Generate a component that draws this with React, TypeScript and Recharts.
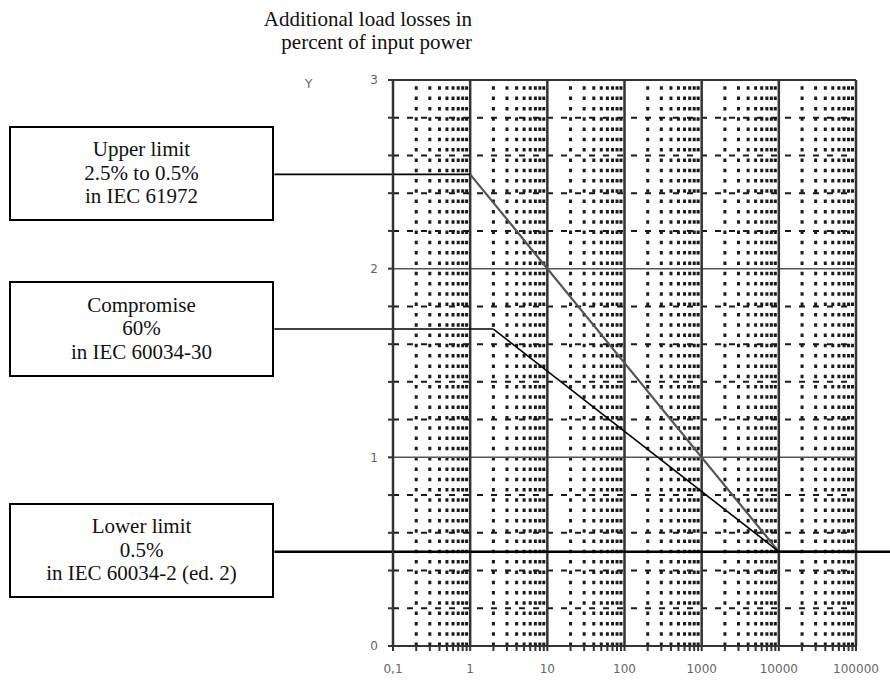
import React from 'react';
import { ComposedChart, Line, XAxis, YAxis, ReferenceLine } from 'recharts';

// ---- data ----
const DECADES = [0.1, 1, 10, 100, 1000, 10000, 100000];
const DECADE_LABELS = ['0,1', '1', '10', '100', '1000', '10000', '100000'];
const MINOR_MULTIPLIERS = [2, 3, 4, 5, 6, 7, 8, 9];
const Y_MAJOR = [0, 1, 2, 3];
const Y_DASHED = [0.2, 0.4, 0.6, 0.8, 1.2, 1.4, 1.6, 1.8, 2.2, 2.4, 2.6, 2.8];

const upperLimit = [
  { x: 1, y: 2.5 },
  { x: 10000, y: 0.5 },
  { x: 100000, y: 0.5 },
];
const compromise = [
  { x: 2, y: 1.68 },
  { x: 10000, y: 0.5 },
];
const LOWER_LIMIT = 0.5;

const TITLE_LINES = ['Additional load losses in', 'percent of input power'];
const BOX_UPPER = ['Upper limit', '2.5% to 0.5%', 'in IEC 61972'];
const BOX_COMP = ['Compromise', '60%', 'in IEC 60034-30'];
const BOX_LOWER = ['Lower limit', '0.5%', 'in IEC 60034-2 (ed. 2)'];

// x value (in axis units, extrapolated) where the annotation boxes end
const BOX_EDGE_X = 0.0029;
const FAR_RIGHT_X = 1000000;

const minorX: number[] = DECADES.slice(0, -1).flatMap((d) =>
  MINOR_MULTIPLIERS.map((m) => Number((d * m).toPrecision(6)))
);
const xTicks = [...DECADES, ...minorX].sort((a, b) => a - b);
const yTicks = [...Y_MAJOR, ...Y_DASHED].sort((a, b) => a - b);

const fmtX = (v: number) => {
  const i = DECADES.indexOf(v);
  return i >= 0 ? DECADE_LABELS[i] : '';
};
const fmtY = (v: number) => (Number.isInteger(v) ? String(v) : '');

const serif = '"Liberation Serif", "Times New Roman", serif';
const sans = '"DejaVu Sans", Verdana, sans-serif';

function Box({ top, height, lines }: { top: number; height: number; lines: string[] }) {
  return (
    <div
      style={{
        position: 'absolute',
        left: 9,
        top,
        width: 265,
        height,
        boxSizing: 'border-box',
        border: '2px solid #000',
        background: '#fff',
        display: 'flex',
        flexDirection: 'column',
        justifyContent: 'center',
        alignItems: 'center',
        fontFamily: serif,
        fontSize: 21,
        lineHeight: '23.5px',
        color: '#111',
      }}
    >
      {lines.map((l) => (
        <div key={l}>{l}</div>
      ))}
    </div>
  );
}

export default function App() {
  return (
    <div style={{ position: 'absolute', left: 0, top: 0, width: 890, height: 682, background: '#fff', overflow: 'hidden' }}>
      <ComposedChart width={890} height={682} margin={{ top: 80, right: 34, bottom: 6, left: 303 }}>
        <XAxis
          dataKey="x"
          type="number"
          scale="log"
          domain={[0.1, 100000]}
          allowDataOverflow
          ticks={xTicks}
          interval={0}
          tickFormatter={fmtX}
          tickSize={5}
          tickMargin={13}
          height={30}
          stroke="#333"
          strokeWidth={2}
          tick={{ fill: '#666', fontSize: 12, fontFamily: sans }}
        />
        <YAxis
          type="number"
          domain={[0, 3]}
          allowDataOverflow
          ticks={yTicks}
          interval={0}
          tickFormatter={fmtY}
          width={90}
          tickSize={5}
          tickMargin={10}
          stroke="#333"
          strokeWidth={2}
          tick={{ fill: '#666', fontSize: 12, fontFamily: sans }}
          label={(props: any) => {
            const vb = props.viewBox || { x: 303, y: 80 };
            return (
              <text x={vb.x + 2} y={vb.y + 8} fill="#666" fontSize={12} fontFamily={sans}>
                Y
              </text>
            );
          }}
        />

        {minorX.map((v) => (
          <ReferenceLine key={'mx' + v} x={v} stroke="#1a1a1a" strokeWidth={3} strokeDasharray="3.5 6.8" />
        ))}
        {Y_DASHED.map((v) => (
          <ReferenceLine key={'yd' + v} y={v} stroke="#1a1a1a" strokeWidth={2} strokeDasharray="6 8" />
        ))}
        {Y_MAJOR.slice(1, -1).map((v) => (
          <ReferenceLine key={'ym' + v} y={v} stroke="#555" strokeWidth={1.5} />
        ))}
        <ReferenceLine y={Y_MAJOR[Y_MAJOR.length - 1]} stroke="#333" strokeWidth={2} />
        {DECADES.map((v) => (
          <ReferenceLine key={'dx' + v} x={v} stroke="#333" strokeWidth={2.5} />
        ))}

        <Line data={upperLimit} dataKey="y" type="linear" stroke="#555" strokeWidth={2.2} dot={false} isAnimationActive={false} />
        <Line data={compromise} dataKey="y" type="linear" stroke="#000" strokeWidth={1.6} dot={false} isAnimationActive={false} />

        <ReferenceLine
          ifOverflow="visible"
          segment={[{ x: BOX_EDGE_X, y: upperLimit[0].y }, { x: upperLimit[0].x, y: upperLimit[0].y }]}
          stroke="#000"
          strokeWidth={1.6}
        />
        <ReferenceLine
          ifOverflow="visible"
          segment={[{ x: BOX_EDGE_X, y: compromise[0].y }, { x: compromise[0].x, y: compromise[0].y }]}
          stroke="#000"
          strokeWidth={1.6}
        />
        <ReferenceLine
          ifOverflow="visible"
          segment={[{ x: BOX_EDGE_X, y: LOWER_LIMIT }, { x: FAR_RIGHT_X, y: LOWER_LIMIT }]}
          stroke="#000"
          strokeWidth={2.5}
        />
      </ComposedChart>

      <div
        style={{
          position: 'absolute',
          left: 0,
          top: 8,
          width: 472,
          textAlign: 'right',
          fontFamily: serif,
          fontSize: 21,
          lineHeight: '23px',
          color: '#111',
        }}
      >
        {TITLE_LINES.map((l) => (
          <div key={l}>{l}</div>
        ))}
      </div>

      <Box top={126} height={95} lines={BOX_UPPER} />
      <Box top={281} height={96} lines={BOX_COMP} />
      <Box top={503} height={95} lines={BOX_LOWER} />
    </div>
  );
}
